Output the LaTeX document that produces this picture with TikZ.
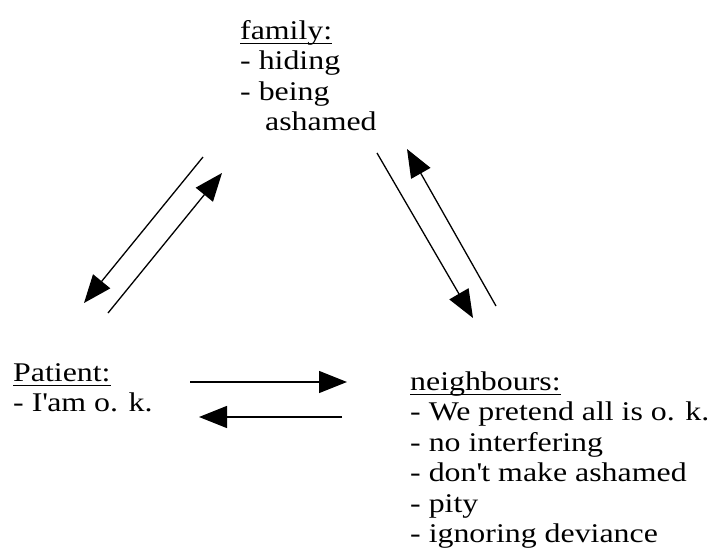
\documentclass[tikz,border=0pt]{standalone}
\usepackage{fontspec}
\setmainfont[FakeStretch=1.18]{Liberation Serif}
\usetikzlibrary{arrows.meta}
\newcommand\ulabel[1]{\setbox0\hbox{#1}\rlap{\rule[-5pt]{\wd0}{1pt}}\box0}
\tikzset{
  block/.style={anchor=base west, inner sep=0pt, font=\fontsize{27}{30.5}\selectfont},
  link/.style={-{Triangle[length=28pt,width=22pt]}, line width=1.3pt},
}
\begin{document}
\begin{tikzpicture}[x=1pt,y=-1pt]
      \useasboundingbox (0,0) rectangle (710,547);
      \draw
        (240,39) node[block] (family){\begin{tabular}[t]{@{}l@{}}\ulabel{family:}\\- hiding\\- being\\\hspace{25pt}ashamed\end{tabular}}
        (13,381) node[block] (patient){\begin{tabular}[t]{@{}l@{}}\ulabel{Patient:}\\- I\textquotesingle am o. k.\end{tabular}}
        (410,390) node[block] (neighbours){\begin{tabular}[t]{@{}l@{}}\ulabel{neighbours:}\\- We pretend all is o. k.\\- no interfering\\- don\textquotesingle t make ashamed\\- pity\\- ignoring deviance\end{tabular}};
      % arrow ends
      \coordinate (f1) at (203,157); \coordinate (p1) at (84,303);
      \coordinate (p2) at (108,313); \coordinate (f2) at (222,173);
      \coordinate (f3) at (377,153); \coordinate (n1) at (473,318);
      \coordinate (n2) at (496,306); \coordinate (f4) at (407,149);
      \coordinate (p3) at (190,382); \coordinate (n3) at (347,382);
      \coordinate (n4) at (342,417); \coordinate (p4) at (199,417);
      \begin{scope}[link]
        \draw (f1) to (p1);
        \draw (p2) to (f2);
        \draw (f3) to (n1);
        \draw (n2) to (f4);
        \draw (p3) to (n3);
        \draw (n4) to (p4);
      \end{scope}
    \end{tikzpicture}
\end{document}
